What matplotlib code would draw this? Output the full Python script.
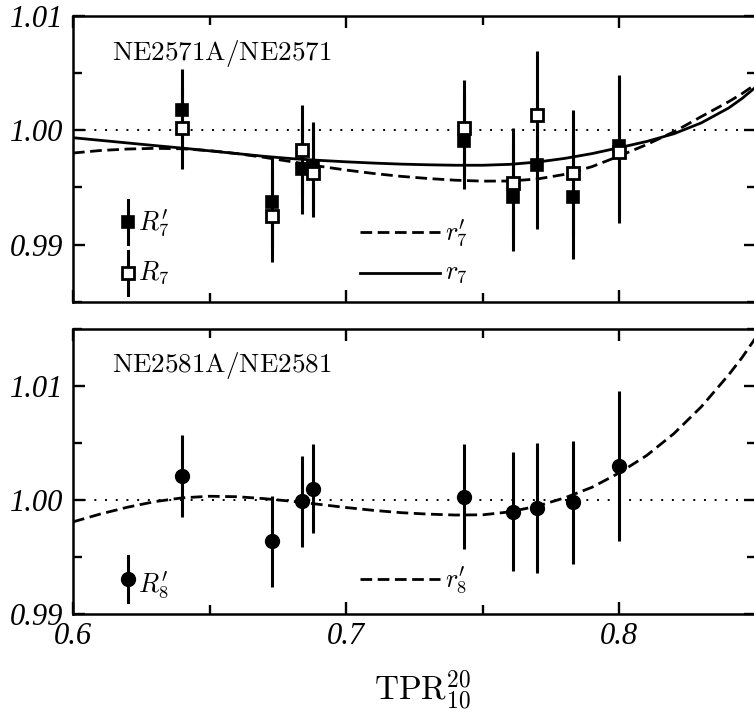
import matplotlib
matplotlib.use("Agg")
import matplotlib.pyplot as plt
from matplotlib.ticker import MultipleLocator, FormatStrFormatter

plt.rcParams["mathtext.fontset"] = "cm"

# ---- measured ratios, NE2571A/NE2571 ----
tpr_7 = [0.640, 0.673, 0.684, 0.688, 0.743, 0.761, 0.770, 0.783, 0.800]
R7_prime = [1.0018, 0.9937, 0.9966, 0.9968, 0.9991, 0.9942, 0.9970, 0.9942, 0.9986]
R7 = [1.0002, 0.9925, 0.9983, 0.9963, 1.0002, 0.9954, 1.0013, 0.9963, 0.9981]
err_7 = [0.0036, 0.0040, 0.0039, 0.0039, 0.0042, 0.0048, 0.0056, 0.0055, 0.0062]

# ---- measured ratios, NE2581A/NE2581 ----
tpr_8 = [0.640, 0.673, 0.684, 0.688, 0.743, 0.761, 0.770, 0.783, 0.800]
R8_prime = [1.0021, 0.9964, 0.9999, 1.0010, 1.0003, 0.9990, 0.9993, 0.9998, 1.0030]
err_8 = [0.0036, 0.0040, 0.0040, 0.0039, 0.0046, 0.0052, 0.0057, 0.0054, 0.0066]

# ---- fitted curves ----
tpr_curve = [0.60, 0.61, 0.62, 0.63, 0.64, 0.65, 0.66, 0.67, 0.68, 0.69, 0.70,
             0.71, 0.72, 0.73, 0.74, 0.75, 0.76, 0.77, 0.78, 0.79, 0.80,
             0.81, 0.82, 0.83, 0.84, 0.845, 0.85]
r7 = [0.99935, 0.99912, 0.99889, 0.99866, 0.99844, 0.99820, 0.99796, 0.99772,
      0.99752, 0.99737, 0.99724, 0.99713, 0.99704, 0.99698, 0.99694, 0.99694,
      0.99702, 0.99722, 0.99754, 0.99796, 0.99848, 0.99902, 0.99970, 1.00065,
      1.00195, 1.00280, 1.00380]
r7_prime = [0.99801, 0.99823, 0.99836, 0.99842, 0.99838, 0.99822, 0.99796,
            0.99763, 0.99725, 0.99686, 0.99652, 0.99622, 0.99597, 0.99578,
            0.99563, 0.99555, 0.99556, 0.99574, 0.99614, 0.99682, 0.99775,
            0.99875, 0.99987, 1.00120, 1.00250, 1.00322, 1.00405]
r8_prime = [0.99809, 0.99878, 0.99938, 0.99987, 1.00020, 1.00034, 1.00030,
            1.00013, 0.99990, 0.99963, 0.99935, 0.99910, 0.99890, 0.99877,
            0.99869, 0.99871, 0.99897, 0.99948, 1.00020, 1.00113, 1.00240,
            1.00392, 1.00585, 1.00820, 1.01100, 1.01255, 1.01430]

x_range = (0.60, 0.85)
ylim_7 = (0.985, 1.010)
ylim_8 = (0.990, 1.015)

tick_font = dict(family="Liberation Serif", style="italic", size=22)
DASH = (4.2, 2.0)
DOT = (1, 4.5)
LW_CURVE = 2.0
LW_ERR = 2.2

fig = plt.figure(figsize=(7.54, 7.13), dpi=100)
ax_top = fig.add_axes([0.09682, 0.57686, 0.9058, 0.4007])
ax_bot = fig.add_axes([0.09682, 0.13885, 0.9058, 0.3993])


def style_axes(ax, ylim, show_x_labels):
    ax.set_xlim(*x_range)
    ax.set_ylim(*ylim)
    for sp in ax.spines.values():
        sp.set_linewidth(1.8)
    ax.xaxis.set_major_locator(MultipleLocator(0.1))
    ax.xaxis.set_minor_locator(MultipleLocator(0.05))
    ax.yaxis.set_major_locator(MultipleLocator(0.01))
    ax.yaxis.set_minor_locator(MultipleLocator(0.005))
    ax.xaxis.set_major_formatter(FormatStrFormatter("%.1f"))
    ax.yaxis.set_major_formatter(FormatStrFormatter("%.2f"))
    ax.tick_params(which="both", direction="in", top=True, right=True,
                   width=1.7)
    ax.tick_params(which="major", length=8.6)
    ax.tick_params(which="minor", length=6.5)
    ax.tick_params(axis="y", which="major", pad=7)
    ax.tick_params(axis="x", which="major", pad=5.5, labelbottom=show_x_labels)
    for lab in ax.get_yticklabels() + ax.get_xticklabels():
        lab.set_fontfamily(tick_font["family"])
        lab.set_fontstyle(tick_font["style"])
        lab.set_fontsize(tick_font["size"])
    ax.axhline(1.0, color="black", lw=1.4, linestyle=(0, DOT), zorder=1)


style_axes(ax_top, ylim_7, False)
style_axes(ax_bot, ylim_8, True)

# ---- top panel ----
ax_top.plot(tpr_curve, r7_prime, color="black", lw=LW_CURVE,
            linestyle=(0, DASH), zorder=2)
ax_top.plot(tpr_curve, r7, color="black", lw=LW_CURVE, zorder=2)
ax_top.errorbar(tpr_7, R7_prime, yerr=err_7, fmt="s", color="black",
                ms=9, mec="black", mfc="black", mew=1.2,
                elinewidth=LW_ERR, capsize=0, zorder=4)
ax_top.errorbar(tpr_7, R7, yerr=err_7, fmt="s", color="black",
                ms=8, mec="black", mfc="white", mew=2.0,
                elinewidth=LW_ERR, capsize=0, zorder=5)

ax_top.text(0.0565, 0.846, r"$\mathrm{NE2571A/NE2571}$", transform=ax_top.transAxes,
            fontsize=19.5, va="baseline", ha="left")

# key entries (top)
tf = ax_top.transAxes
ax_top.plot([0.0805, 0.0805], [0.203, 0.357], color="black", lw=LW_ERR,
            transform=tf, clip_on=False)
ax_top.plot([0.0805], [0.280], marker="s", ms=9, mfc="black", mec="black",
            mew=1.2, transform=tf, clip_on=False)
ax_top.plot([0.0805, 0.0805], [0.024, 0.179], color="black", lw=LW_ERR,
            transform=tf, clip_on=False)
ax_top.plot([0.0805], [0.1015], marker="s", ms=8, mfc="white", mec="black",
            mew=2.0, transform=tf, clip_on=False)
ax_top.text(0.0952, 0.251, r"$R^{\prime}_{7}$", transform=tf, fontsize=19,
            va="baseline", ha="left")
ax_top.text(0.0952, 0.078, r"$R_{7}$", transform=tf, fontsize=19,
            va="baseline", ha="left")
ax_top.plot([0.4202, 0.5373], [0.243, 0.243], color="black", lw=LW_CURVE,
            linestyle=(0, DASH), transform=tf)
ax_top.plot([0.4202, 0.5373], [0.1015, 0.1015], color="black", lw=LW_CURVE,
            transform=tf)
ax_top.text(0.5447, 0.216, r"$r^{\prime}_{7}$", transform=tf, fontsize=19,
            va="baseline", ha="left")
ax_top.text(0.5447, 0.082, r"$r_{7}$", transform=tf, fontsize=19,
            va="baseline", ha="left")

# ---- bottom panel ----
ax_bot.plot(tpr_curve, r8_prime, color="black", lw=LW_CURVE,
            linestyle=(0, DASH), zorder=2)
ax_bot.errorbar(tpr_8, R8_prime, yerr=err_8, fmt="o", color="black",
                ms=10, mec="black", mfc="black", mew=1.0,
                elinewidth=LW_ERR, capsize=0, zorder=4)

ax_bot.text(0.0565, 0.851, r"$\mathrm{NE2581A/NE2581}$", transform=ax_bot.transAxes,
            fontsize=19.5, va="baseline", ha="left")

bf = ax_bot.transAxes
ax_bot.plot([0.0805, 0.0805], [0.042, 0.202], color="black", lw=LW_ERR,
            transform=bf, clip_on=False)
ax_bot.plot([0.0805], [0.122], marker="o", ms=10, mfc="black", mec="black",
            mew=1.0, transform=bf, clip_on=False)
ax_bot.text(0.0952, 0.078, r"$R^{\prime}_{8}$", transform=bf, fontsize=19,
            va="baseline", ha="left")
ax_bot.plot([0.4202, 0.5373], [0.122, 0.122], color="black", lw=LW_CURVE,
            linestyle=(0, DASH), transform=bf)
ax_bot.text(0.5447, 0.096, r"$r^{\prime}_{8}$", transform=bf, fontsize=19,
            va="baseline", ha="left")

ax_bot.set_xlabel(r"$\mathrm{TPR}_{10}^{20}$", fontsize=24)
ax_bot.xaxis.set_label_coords(0.512, -0.19)

fig.savefig("out.png", dpi=100)
